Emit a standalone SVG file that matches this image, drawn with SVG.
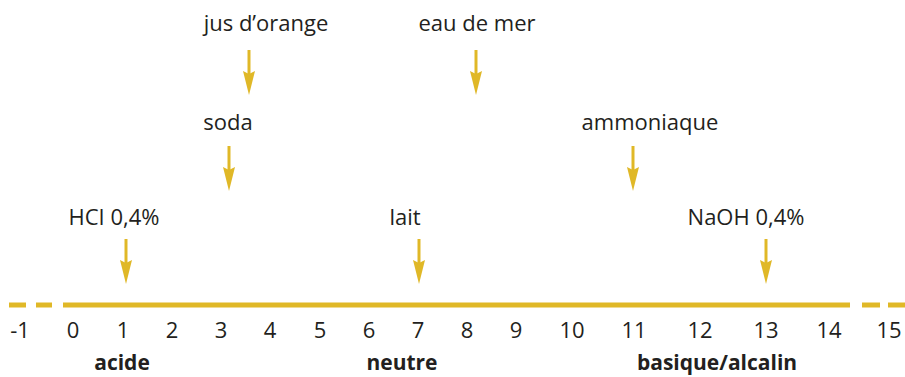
<svg xmlns="http://www.w3.org/2000/svg" width="905" height="377" viewBox="0 0 905 377">
<style>
.t{font-family:"Open Sans","Noto Sans","DejaVu Sans",sans-serif;font-size:22px;fill:#231f20;text-anchor:middle}
.b{font-weight:bold;font-size:21px}
.ax{stroke:#e0b827;stroke-width:5;fill:none}
.sh{stroke:#e0b827;stroke-width:3;fill:none}
.hd{fill:#e0b827}
</style>
<defs>
<g id="arrow">
<line class="sh" x1="0" y1="0" x2="0" y2="30"/>
<path class="hd" d="M-6,21 L0,45 L6,21 L0,24 Z"/>
</g>
</defs>
<rect width="905" height="377" fill="#fff"/>
<g id="axis">
<line class="ax" x1="9" y1="305" x2="26" y2="305"/>
<line class="ax" x1="36" y1="305" x2="52" y2="305"/>
<line class="ax" x1="63" y1="305" x2="850" y2="305"/>
<line class="ax" x1="862" y1="305" x2="880" y2="305"/>
<line class="ax" x1="888" y1="305" x2="905" y2="305"/>
</g>
<g id="ticks" class="t">
<text x="20" y="338">-1</text>
<text x="73" y="338">0</text>
<text x="123" y="338">1</text>
<text x="172" y="338">2</text>
<text x="221" y="338">3</text>
<text x="270" y="338">4</text>
<text x="320" y="338">5</text>
<text x="369" y="338">6</text>
<text x="418" y="338">7</text>
<text x="467" y="338">8</text>
<text x="516" y="338">9</text>
<text x="572" y="338">10</text>
<text x="634" y="338">11</text>
<text x="700" y="338">12</text>
<text x="766" y="338">13</text>
<text x="829" y="338">14</text>
<text x="889" y="338">15</text>
</g>
<g id="zones" class="t b">
<text x="122" y="370">acide</text>
<text x="402" y="370">neutre</text>
<text x="717" y="370">basique/alcalin</text>
</g>
<g id="connectors">
<use href="#arrow" x="249" y="50"/>
<use href="#arrow" x="476" y="50"/>
<use href="#arrow" x="229" y="146"/>
<use href="#arrow" x="633" y="146"/>
<use href="#arrow" x="126" y="239"/>
<use href="#arrow" x="419" y="239"/>
<use href="#arrow" x="766" y="239"/>
</g>
<g id="jus" class="t"><text x="266" y="31">jus d’orange</text></g>
<g id="eau" class="t"><text x="477" y="31">eau de mer</text></g>
<g id="soda" class="t"><text x="228" y="130">soda</text></g>
<g id="ammoniaque" class="t"><text x="650" y="130">ammoniaque</text></g>
<g id="hcl" class="t"><text x="114" y="225">HCI 0,4%</text></g>
<g id="lait" class="t"><text x="405" y="225">lait</text></g>
<g id="naoh" class="t"><text x="746" y="225">NaOH 0,4%</text></g>
</svg>
